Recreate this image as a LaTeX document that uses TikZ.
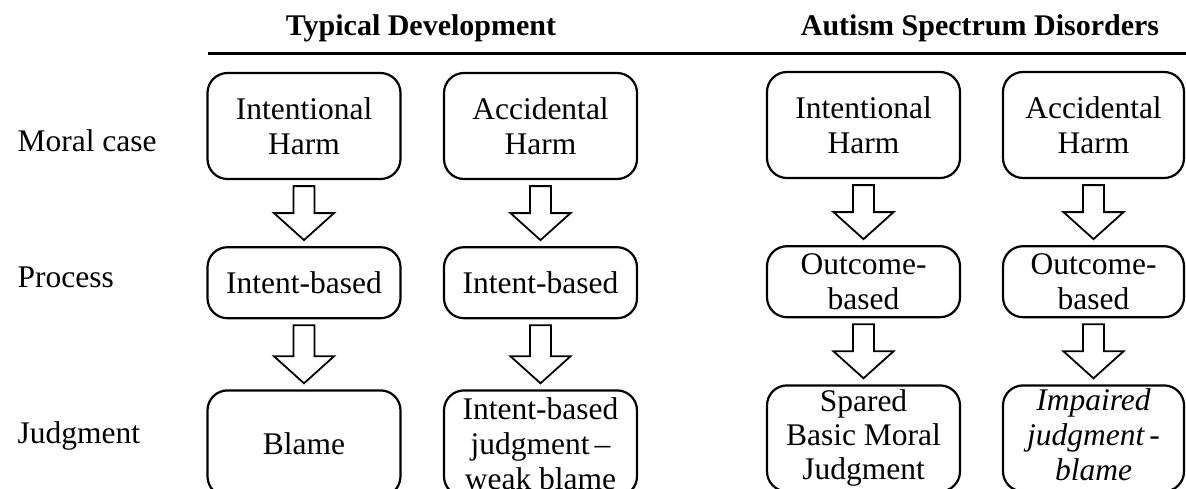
\documentclass[tikz,border=0pt]{standalone}
\usepackage{fontspec}
\setmainfont{Liberation Serif}
\usetikzlibrary{positioning,calc}

\begin{document}
\begin{tikzpicture}[x=1pt,y=1pt,node distance=66pt,
 b/.style={draw,line width=2.2pt,rounded corners=20pt,align=center,minimum width=193pt,minimum height=106pt,inner sep=1pt,font=\fontsize{31.5}{35}\selectfont},
 p/.style={b,minimum height=71pt},
 hd/.style={anchor=base,font=\bfseries\fontsize{30}{34}\selectfont},
 lb/.style={anchor=base west,font=\fontsize{31.5}{35}\selectfont},
 fat/.style={draw,line width=1.8pt,fill=white,line join=miter}]
\useasboundingbox (0,0) rectangle (1186,-488);
% headings
\node[hd] (th) at (421,-35) {Typical Development};
\node[hd] (ah) at (980,-35) {Autism Spectrum Disorders};
\draw[line width=3pt] (208,-53) -- (1186,-53);
% row labels
\node[lb] (lm) at (14,-151) {Moral case};
\node[lb] (lp) at (14,-287) {Process};
\node[lb] (lj) at (14,-443) {Judgment};
% typical development
\node[b] (ti) at (304,-126) {Intentional\\Harm};
\node[b] (ta) at (540.5,-126) {Accidental\\Harm};
\node[p,below=of ti] (tp) {Intent-based};
\node[p,below=of ta] (tq) {Intent-based};
\node[b,below=70pt of tp] (tj) {Blame};
\node[b,below=70pt of tq] (tk) {Intent-based\\judgment\,--\\weak blame};
% autism spectrum disorders
\node[b] (ai) at (863.5,-125) {Intentional\\Harm};
\node[b,minimum width=181pt] (aa) at (1093.5,-125) {Accidental\\Harm};
\node[p,below=of ai] (ap) {Outcome-\\based};
\node[p,minimum width=181pt,below=of aa] (aq) {Outcome-\\based};
\node[b,below=of ap,font=\fontsize{31.5}{34}\selectfont] (aj) {Spared\\Basic Moral\\Judgment};
\node[b,minimum width=181pt,below=of aq,text depth=8pt,font=\itshape\fontsize{31.5}{35}\selectfont] (ak) {Impaired\\judgment\,-\\blame};
% block arrows
\foreach \u/\v in {ti/tp,ta/tq,tp/tj,tq/tk,ai/ap,aa/aq,ap/aj,aq/ak}
 \draw[fat] ($(\u.south)+(-10.5,-6)$) -- ($(\v.north)+(-10.5,33)$) -- ++(-19.5,0)
  -- ($(\v.north)+(0,6)$) -- ($(\v.north)+(30,33)$) -- ++(-19.5,0)
  -- ($(\u.south)+(10.5,-6)$) -- cycle;
\end{tikzpicture}
\end{document}
